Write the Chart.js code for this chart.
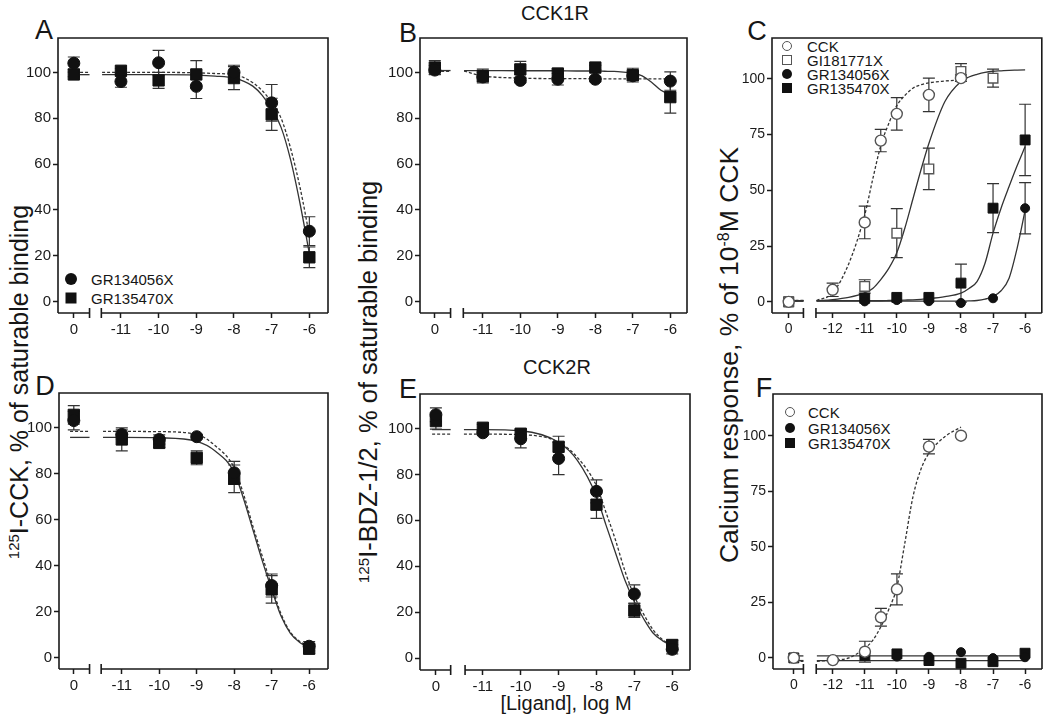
<!DOCTYPE html>
<html><head><meta charset="utf-8">
<script src="https://cdn.jsdelivr.net/npm/chart.js@4.4.1/dist/chart.umd.min.js"></script>
<style>
html,body{margin:0;padding:0;background:#fff;}
body{width:1050px;height:716px;position:relative;overflow:hidden;font-family:"Liberation Sans",Arial,sans-serif;color:#161616;}
canvas{position:absolute;}
.t{position:absolute;white-space:nowrap;line-height:1;transform:translate(-50%,-50%);}
.r{transform:translate(-50%,-50%) rotate(-90deg);}
.lg{position:absolute;white-space:nowrap;line-height:1;font-size:15px;transform:translateY(-50%);}
.mk{position:absolute;box-sizing:border-box;transform:translate(-50%,-50%);}
sup{font-size:60%;line-height:0;vertical-align:0.55em;}
</style></head><body>
<div class="t" style="left:44px;top:30px;font-size:27px">A</div>
<div class="t" style="left:408px;top:33px;font-size:27px">B</div>
<div class="t" style="left:757px;top:31px;font-size:27px">C</div>
<div class="t" style="left:45px;top:386px;font-size:27px">D</div>
<div class="t" style="left:408px;top:389px;font-size:27px">E</div>
<div class="t" style="left:764px;top:388px;font-size:27px">F</div>
<div class="t" style="left:555px;top:13px;font-size:20px">CCK1R</div>
<div class="t" style="left:557px;top:367px;font-size:20px">CCK2R</div>
<div class="t" style="left:566px;top:703px;font-size:20px">[Ligand], log M</div>
<div class="t r" style="left:19px;top:382px;font-size:25px"><sup>125</sup>I-CCK, % of saturable binding</div>
<div class="t r" style="left:369px;top:382px;font-size:25.5px"><sup>125</sup>I-BDZ-1/2, % of saturable binding</div>
<div class="t r" style="left:729px;top:355px;font-size:26.5px">Calcium response, % of 10<sup>-8</sup>M CCK</div>

<div class="mk" style="left:71px;top:279px;width:12px;height:12px;border-radius:50%;background:#111"></div>
<div class="lg" style="left:91px;top:279px">GR134056X</div>
<div class="mk" style="left:71px;top:298px;width:11px;height:11px;background:#111"></div>
<div class="lg" style="left:91px;top:298px">GR135470X</div>

<div class="mk" style="left:787px;top:46px;width:10px;height:10px;border-radius:50%;border:1.4px solid #555;background:#fff"></div>
<div class="lg" style="left:807px;top:46px">CCK</div>
<div class="mk" style="left:787px;top:60px;width:10px;height:10px;border:1.4px solid #555;background:#fff"></div>
<div class="lg" style="left:807px;top:60px">GI181771X</div>
<div class="mk" style="left:787px;top:74px;width:10px;height:10px;border-radius:50%;background:#111"></div>
<div class="lg" style="left:807px;top:74px">GR134056X</div>
<div class="mk" style="left:787px;top:88px;width:10px;height:10px;background:#111"></div>
<div class="lg" style="left:807px;top:88px">GR135470X</div>

<div class="mk" style="left:790px;top:412px;width:10px;height:10px;border-radius:50%;border:1.4px solid #555;background:#fff"></div>
<div class="lg" style="left:808px;top:412px">CCK</div>
<div class="mk" style="left:790px;top:428px;width:10px;height:10px;border-radius:50%;background:#111"></div>
<div class="lg" style="left:808px;top:428px">GR134056X</div>
<div class="mk" style="left:790px;top:443px;width:10px;height:10px;background:#111"></div>
<div class="lg" style="left:808px;top:443px">GR135470X</div>

<script>
// ---------- categories / ticks (log M; null = vehicle, shown at the "0" tick) ----------
const doseBind = [null, -11, -10, -9, -8, -7, -6];
const doseCCK  = [null, -12, -11, -10.5, -10, -9, -8];
const doseGI   = [null, -11, -10, -9, -8, -7];
const doseAnt  = [null, -11, -10, -9, -8, -7, -6];
const xTicksBind = [-11, -10, -9, -8, -7, -6];
const xTicksCa   = [-12, -11, -10, -9, -8, -7, -6];
const yTicksBind = [0, 20, 40, 60, 80, 100];
const yTicksCa   = [0, 25, 50, 75, 100];
const fitXBind = [-11.5, -11, -10, -9, -8.5, -8, -7.75, -7.5, -7.25, -7, -6.75, -6.5, -6.25, -6];
const fitXCa = [-12.5, -12, -11.5, -11, -10.75, -10.5, -10.25, -10, -9.75, -9.5, -9.25, -9, -8.5, -8, -7.75, -7.5, -7.25, -7, -6.75, -6.5, -6.25, -6];
const fitXFlat = [-12.5, -6];

// ---------- A: CCK1R, 125I-CCK binding ----------
const A_GR1 = [104, 96, 104.2, 93.9, 100.1, 86.7, 30.7];
const A_GR1_err = [2.7, 2.5, 5.4, 5.3, 3, 8, 6.3];
const A_GR2 = [99.1, 100.7, 96.5, 99.1, 97.5, 81.7, 19.3];
const A_GR2_err = [1, 1, 3.5, 6, 5, 7, 4.5];
const A_fitGR1 = [100, 100, 100, 99.8, 99.5, 99, 97.8, 95.5, 92, 87, 80, 67, 50, 29];
const A_fitGR2 = [99, 99, 99, 98.8, 98.4, 97.6, 96.2, 94, 90, 84, 76, 62, 43, 21];

// ---------- B: CCK1R, 125I-BDZ binding ----------
const B_GR1 = [101, 98, 96.5, 97, 97, 98.5, 96.2];
const B_GR1_err = [2, 2, 1, 2.5, 1, 2, 4];
const B_GR2 = [102.1, 98.4, 101.3, 99.5, 102.1, 98.8, 89.2];
const B_GR2_err = [3, 3, 3.5, 2, 1, 3, 7];
const B_fitGR1 = [100.5, 98.5, 97.5, 97.3, 97.3, 97.2, 97.2, 97.2, 97.2, 97.2, 97.2, 97.2, 97.2, 97.2];
const B_fitGR2 = [100.8, 100.8, 100.7, 100.7, 100.6, 100.6, 100.5, 100.4, 100.1, 99.7, 98.5, 95.7, 92.2, 90.4];

// ---------- C: CCK1R calcium ----------
const C_CCK = [0, 5.4, 35.6, 72.3, 84.3, 92.8, 100.3];
const C_CCK_err = [0, 3, 7.3, 5, 7.3, 7.5, 1.5];
const C_GI = [0, 6.9, 30.8, 59.6, 103.3, 100.3];
const C_GI_err = [0, 3, 11, 9.3, 3.5, 4];
const C_GR1 = [0, 0.2, 0.8, 0.3, -0.5, 1.6, 42];
const C_GR1_err = [0, 0, 0, 0, 0, 0, 11.5];
const C_GR2 = [0, 1.6, 2, 2, 8.4, 42, 72.6];
const C_GR2_err = [0, 0, 0, 0, 8.5, 11, 16];
const C_fitCCK = [0.6, 4, 17, 39, 55, 70, 80, 88, 92.5, 95.8, 97.3, 98.2, 99, 99.5];
const C_fitGI = [0.5, 1, 2, 4, 6, 10, 15, 22, 33, 46, 59, 71, 89.8, 98.8, 100.8, 102, 102.9, 103.4, 103.6, 103.8, 103.9, 104];
const C_fitGR2 = [0.5, 0.5, 0.5, 0.5, 0.5, 0.5, 0.6, 0.7, 0.8, 0.9, 1.1, 1.4, 2.3, 3.9, 6, 9.1, 17.3, 30.8, 42, 51.7, 61, 69.6];
const C_fitGR1 = [0.3, 0.3, 0.3, 0.3, 0.3, 0.3, 0.3, 0.3, 0.3, 0.3, 0.3, 0.3, 0.3, 0.3, 0.4, 0.6, 1.2, 2.4, 5, 10.6, 24, 41];

// ---------- D: CCK2R, 125I-CCK binding ----------
const D_GR1 = [103, 97, 94.8, 96, 80.3, 31.3, 4.9];
const D_GR1_err = [4, 2, 2, 1, 5, 5, 2];
const D_GR2 = [105.5, 94.8, 93.3, 86.8, 77.7, 29.6, 3.8];
const D_GR2_err = [4, 5, 2, 3, 6, 6, 2];
const D_fitGR1 = [98.3, 98.3, 98.2, 97, 92, 82.5, 71, 57, 44, 31, 19, 11, 7, 4.8];
const D_fitGR2 = [95.7, 95.7, 95.5, 94, 89.7, 80.5, 69, 55.5, 42, 29.6, 18, 10.5, 6.5, 4.3];

// ---------- E: CCK2R, 125I-BDZ binding ----------
const E_GR1 = [106, 98.1, 95.5, 86.9, 72.6, 27.9, 3.8];
const E_GR1_err = [3, 1, 4, 7, 5, 4, 2];
const E_GR2 = [103.2, 100.3, 97.7, 92, 66.8, 20.7, 5.7];
const E_GR2_err = [3.5, 1.5, 2, 4.6, 6, 3, 2];
const E_fitGR1 = [97.5, 97.5, 97.3, 94, 87.3, 75, 63.5, 51.5, 38, 27, 19, 12.2, 8, 5.3];
const E_fitGR2 = [99.5, 99.5, 99, 94, 86, 70.5, 58, 46, 34, 24.6, 17, 10.8, 7.5, 5.3];

// ---------- F: CCK2R calcium ----------
const F_CCK = [0, -1, 2.8, 18.3, 30.9, 95.2, 100.1];
const F_CCK_err = [0, 0.6, 4.7, 4, 7, 3.3, 0.5];
const F_GR1 = [0, 2.2, 0.6, 0.5, 2.6, -0.1, 0.3];
const F_GR2 = [0, 1.2, 1.8, -1.2, -2.4, -1.7, 2.1];
const F_fitCCK = [-1.5, -1, 0, 4.4, 8, 14.1, 22, 32, 52, 72.6, 85, 92.2, 99.7, 104];
const F_fitGR1 = [0.9, 0.9];
const F_fitGR2 = [-1.2, -1.2];

// ---------- build ----------
const FONT = '"Liberation Sans", Arial, sans-serif';
const INK = '#1a1a1a';
const STY = {
  fc: {ps: 'circle', bg: '#111', bd: '#111', bw: 1, k: 'c'},
  fs: {ps: 'rect', bg: '#111', bd: '#111', bw: 1, k: 's'},
  oc: {ps: 'circle', bg: '#fff', bd: '#555', bw: 1.4, k: 'oc'},
  os: {ps: 'rect', bg: '#fff', bd: '#555', bw: 1.4, k: 'os'}
};

const panels = [
  {frame: [58, 38, 333, 313], x: [-12.67, -5.505], zero: -12.25, brk: [-11.833, -11.52], y: [-5, 115], yt: yTicksBind, xt: xTicksBind, fs: 15,
   r: {c: 6, s: 8, oc: 5.5, os: 6.5},
   series: [[doseBind, A_GR1, A_GR1_err, 'fc'], [doseBind, A_GR2, A_GR2_err, 'fs']],
   fits: [[fitXBind, A_fitGR1, true], [fitXBind, A_fitGR2, false]]},
  {frame: [420, 38, 692, 313], x: [-12.675, -5.555], zero: -12.28, brk: [-11.86, -11.52], y: [-5, 115], yt: yTicksBind, xt: xTicksBind, fs: 15,
   r: {c: 6, s: 8, oc: 5.5, os: 6.5},
   series: [[doseBind, B_GR1, B_GR1_err, 'fc'], [doseBind, B_GR2, B_GR2_err, 'fs']],
   fits: [[fitXBind, B_fitGR1, true], [fitXBind, B_fitGR2, false]]},
  {frame: [772, 38, 1048, 313], x: [-13.89, -5.48], zero: -13.37, brk: [-12.91, -12.52], y: [-5, 118.3], yt: yTicksCa, xt: xTicksCa, fs: 14,
   r: {c: 4.5, s: 7, oc: 5.5, os: 6.8},
   series: [[doseCCK, C_CCK, C_CCK_err, 'oc'], [doseGI, C_GI, C_GI_err, 'os'], [doseAnt, C_GR1, C_GR1_err, 'fc'], [doseAnt, C_GR2, C_GR2_err, 'fs']],
   fits: [[fitXCa, C_fitCCK, true], [fitXCa, C_fitGI, false], [fitXCa, C_fitGR2, false], [fitXCa, C_fitGR1, false]]},
  {frame: [59, 393, 333, 669], x: [-12.675, -5.497], zero: -12.28, brk: [-11.86, -11.55], y: [-5, 115], yt: yTicksBind, xt: xTicksBind, fs: 15,
   r: {c: 6, s: 8, oc: 5.5, os: 6.5},
   series: [[doseBind, D_GR1, D_GR1_err, 'fc'], [doseBind, D_GR2, D_GR2_err, 'fs']],
   fits: [[fitXBind, D_fitGR1, true], [fitXBind, D_fitGR2, false]]},
  {frame: [420, 394, 695, 670], x: [-12.66, -5.53], zero: -12.24, brk: [-11.85, -11.47], y: [-5.2, 115], yt: yTicksBind, xt: xTicksBind, fs: 15,
   r: {c: 6, s: 8, oc: 5.5, os: 6.5},
   series: [[doseBind, E_GR1, E_GR1_err, 'fc'], [doseBind, E_GR2, E_GR2_err, 'fs']],
   fits: [[fitXBind, E_fitGR1, true], [fitXBind, E_fitGR2, false]]},
  {frame: [773, 394, 1047, 669], x: [-13.87, -5.47], zero: -13.22, brk: [-12.92, -12.52], y: [-5, 118.9], yt: yTicksCa, xt: xTicksCa, fs: 14,
   r: {c: 4.5, s: 7, oc: 5.5, os: 6.8},
   series: [[doseCCK, F_CCK, F_CCK_err, 'oc'], [doseAnt, F_GR1, null, 'fc'], [doseAnt, F_GR2, null, 'fs']],
   fits: [[fitXCa, F_fitCCK, true], [fitXFlat, F_fitGR1, false], [fitXFlat, F_fitGR2, false]]}
];

const framePlugin = {
  id: 'brokenFrame',
  beforeDatasetsDraw(chart) {
    const ctx = chart.ctx, xs = chart.scales.x, ys = chart.scales.y;
    ctx.save();
    ctx.strokeStyle = '#333';
    ctx.lineWidth = 1.2;
    chart.data.datasets.forEach(ds => {
      if (!ds.errors) return;
      ds.data.forEach((pt, i) => {
        const e = ds.errors[i];
        if (!e) return;
        const px = xs.getPixelForValue(pt.x);
        const yt = ys.getPixelForValue(pt.y + e), yb = ys.getPixelForValue(pt.y - e);
        ctx.beginPath();
        ctx.moveTo(px, yt); ctx.lineTo(px, yb);
        ctx.moveTo(px - 6, yt); ctx.lineTo(px + 6, yt);
        ctx.moveTo(px - 6, yb); ctx.lineTo(px + 6, yb);
        ctx.stroke();
      });
    });
    ctx.restore();
  },
  afterDraw(chart, args, opts) {
    const ctx = chart.ctx, a = chart.chartArea, xs = chart.scales.x;
    const b0 = xs.getPixelForValue(opts.brk[0]), b1 = xs.getPixelForValue(opts.brk[1]);
    ctx.save();
    ctx.strokeStyle = INK;
    ctx.lineWidth = 1.6;
    ctx.beginPath();
    ctx.moveTo(a.left, a.bottom); ctx.lineTo(a.left, a.top); ctx.lineTo(a.right, a.top); ctx.lineTo(a.right, a.bottom);
    ctx.moveTo(a.left, a.bottom); ctx.lineTo(b0, a.bottom);
    ctx.moveTo(b1, a.bottom); ctx.lineTo(a.right, a.bottom);
    ctx.moveTo(b0, a.bottom - 5); ctx.lineTo(b0, a.bottom + 5);
    ctx.moveTo(b1, a.bottom - 5); ctx.lineTo(b1, a.bottom + 5);
    ctx.stroke();
    ctx.restore();
  }
};

const YW = 50, XH = 34, PT = 12;
panels.forEach(p => {
  const [l, t, r, b] = p.frame;
  const padR = Math.min(4, 1050 - r);
  const w = (r - l) + YW + padR, h = (b - t) + PT + XH;
  const cv = document.createElement('canvas');
  cv.width = w; cv.height = h;
  cv.style.left = (l - YW) + 'px'; cv.style.top = (t - PT) + 'px';
  cv.style.width = w + 'px'; cv.style.height = h + 'px';
  document.body.appendChild(cv);

  const datasets = [];
  p.series.forEach(([dose, vals, errs, sk]) => {
    const s = STY[sk];
    datasets.push({
      data: dose.map((d, i) => ({x: d === null ? p.zero : d, y: vals[i]})),
      errors: errs,
      showLine: false, order: 0,
      pointStyle: s.ps, pointRadius: p.r[s.k], pointHoverRadius: p.r[s.k],
      pointBackgroundColor: s.bg, pointBorderColor: s.bd, pointBorderWidth: s.bw
    });
  });
  p.fits.forEach(([fx, fy, dashed]) => {
    const line = {showLine: true, order: 1, pointRadius: 0, borderColor: '#333', borderWidth: 1.3,
      borderDash: dashed ? [3, 2] : [], cubicInterpolationMode: 'monotone', fill: false};
    datasets.push(Object.assign({data: fy.map((y, i) => ({x: fx[i], y}))}, line));
    datasets.push(Object.assign({}, line, {cubicInterpolationMode: 'default', tension: 0,
      data: [{x: p.zero - 0.1, y: fy[0]}, {x: p.brk[0], y: fy[0]}]}));
  });

  const tickFont = {family: FONT, size: p.fs};
  const gridOpt = {display: true, drawOnChartArea: false, drawTicks: true, tickLength: 5, tickWidth: 1.5, tickColor: INK, color: INK};
  new Chart(cv.getContext('2d'), {
    type: 'scatter',
    data: {datasets},
    options: {
      responsive: false, animation: false, events: [],
      layout: {padding: {left: 0, top: PT, right: padR, bottom: 0}},
      plugins: {legend: {display: false}, tooltip: {enabled: false}, brokenFrame: {brk: p.brk}},
      scales: {
        x: {type: 'linear', min: p.x[0], max: p.x[1], border: {display: false}, grid: gridOpt,
          ticks: {autoSkip: false, maxRotation: 0, padding: 3, font: tickFont, color: INK,
            callback: v => (Math.abs(v - p.zero) < 1e-9 ? '0' : String(v))},
          afterBuildTicks: s => { s.ticks = [p.zero].concat(p.xt).map(v => ({value: v})); },
          afterFit: s => { s.height = XH; }},
        y: {type: 'linear', min: p.y[0], max: p.y[1], border: {display: false}, grid: gridOpt,
          ticks: {padding: 2, font: tickFont, color: INK},
          afterBuildTicks: s => { s.ticks = p.yt.map(v => ({value: v})); },
          afterFit: s => { s.width = YW; }}
      }
    },
    plugins: [framePlugin]
  });
});
</script>
</body></html>
